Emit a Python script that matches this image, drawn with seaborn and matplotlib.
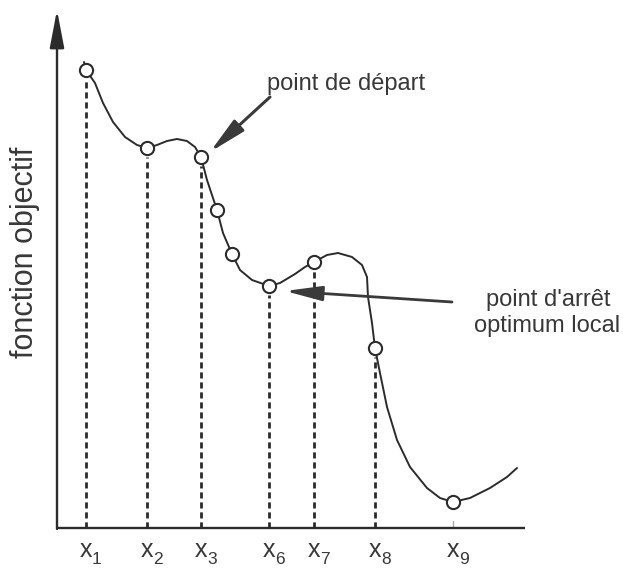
import numpy as np
import pandas as pd
import matplotlib
matplotlib.use("Agg")
import matplotlib.pyplot as plt
import seaborn as sns

# =====================================================
# DATA
# (x = horizontal position, y = objective value, arbitrary units)
# =====================================================

# curve
curve_x = [27, 29, 38, 46, 56, 68, 80, 90, 100, 110, 120, 130, 138, 144,
           150, 160, 166, 175, 183, 195, 212, 223, 238, 248, 257, 270, 281,
           295, 305, 310, 311, 315, 318, 323, 330, 340, 353, 370, 383, 396,
           413, 433, 450, 460]
curve_y = [466, 458, 445, 425, 406, 391, 383, 380, 383, 387, 389, 387, 381, 371,
           348, 318, 295, 274, 258, 248, 242, 245, 254, 261, 266, 273, 275,
           271, 263, 251, 231, 205, 180, 155, 121, 88, 61, 40, 30, 26,
           30, 40, 51, 60]

# iterates x1 .. x9
iter_x = [29, 90, 144, 160, 175, 212, 257, 318, 396]
iter_y = [458, 380, 371, 318, 274, 242, 266, 180, 26]

# iterates that get a dashed drop line and a label
drop_idx = [0, 1, 2, 5, 6, 7]
label_idx = [0, 1, 2, 5, 6, 7, 8]
label_sub = ["1", "2", "3", "6", "7", "8", "9"]

ylabel = "fonction objectif"
start_text = "point de départ"
stop_text = ["point d'arrêt", "optimum local"]

# =====================================================
# FIGURE
# =====================================================

sns.set_style("white")
plt.rcParams["font.family"] = ["Liberation Sans", "DejaVu Sans"]

ink = "#2b2b2b"
txt = "#383838"
W, H = 623, 569
fig = plt.figure(figsize=(W / 100, H / 100), dpi=100)
ax = fig.add_axes([57 / W, (H - 528) / H, 468 / W, 518 / H])
ax.set_xlim(0, 468)
ax.set_ylim(0, 518)

curve = pd.DataFrame({"x": curve_x, "y": curve_y})
pts = pd.DataFrame({"x": iter_x, "y": iter_y})

# dashed drop lines
for i in drop_idx:
    ax.plot([iter_x[i], iter_x[i]], [0, iter_y[i] - 9], color=ink, lw=2.0,
            linestyle=(0, (2.2, 1.4)), clip_on=False, zorder=1)
ax.plot([iter_x[8], iter_x[8]], [1, 7], color="#aaaaaa", lw=1.0, zorder=1)

# curve and points
sns.lineplot(data=curve, x="x", y="y", ax=ax, color=ink, lw=1.4,
             sort=False, estimator=None, zorder=2)
sns.scatterplot(data=pts, x="x", y="y", ax=ax, s=90, marker="o",
                facecolor="white", edgecolor=ink, linewidth=1.5, zorder=3,
                clip_on=False)
ax.set_axis_off()

# axes
ax.plot([0, 468], [0, 0], color=ink, lw=1.7, clip_on=False,
        solid_capstyle="butt")
ax.annotate("", xy=(0, 518), xytext=(0, -1),
            arrowprops=dict(arrowstyle="-|>,head_length=1.15,head_width=0.22",
                            mutation_scale=20, color=ink, lw=1.7,
                            shrinkA=0, shrinkB=0))

# x labels
for i, s in zip(label_idx, label_sub):
    ax.text(iter_x[i], -22, "x", fontsize=18, color=txt,
            ha="center", va="center")
    ax.text(iter_x[i] + 6, -31, s, fontsize=12.5, color=txt,
            ha="left", va="center")

fig.text(25 / W, 1 - 252 / H, ylabel, rotation=90, fontsize=22,
         color=txt, ha="center", va="center")

# annotations
ax.text(210, 438, start_text, fontsize=17, color=txt,
        ha="left", va="baseline")
ax.annotate("", xy=(153, 376), xytext=(213, 431),
            arrowprops=dict(arrowstyle="-|>,head_length=1.6,head_width=0.32",
                            mutation_scale=14, color="#3a3a3a", lw=2.2,
                            shrinkA=0, shrinkB=0))

ax.text(491, 228, stop_text[0], fontsize=17, color=txt,
        ha="center", va="center")
ax.text(490, 202, stop_text[1], fontsize=17, color=txt,
        ha="center", va="center")
ax.annotate("", xy=(228, 237), xytext=(395, 226),
            arrowprops=dict(arrowstyle="-|>,head_length=1.6,head_width=0.32",
                            mutation_scale=14, color="#3a3a3a", lw=2.0,
                            shrinkA=0, shrinkB=0))

fig.savefig("out.png", dpi=100, facecolor="white")
